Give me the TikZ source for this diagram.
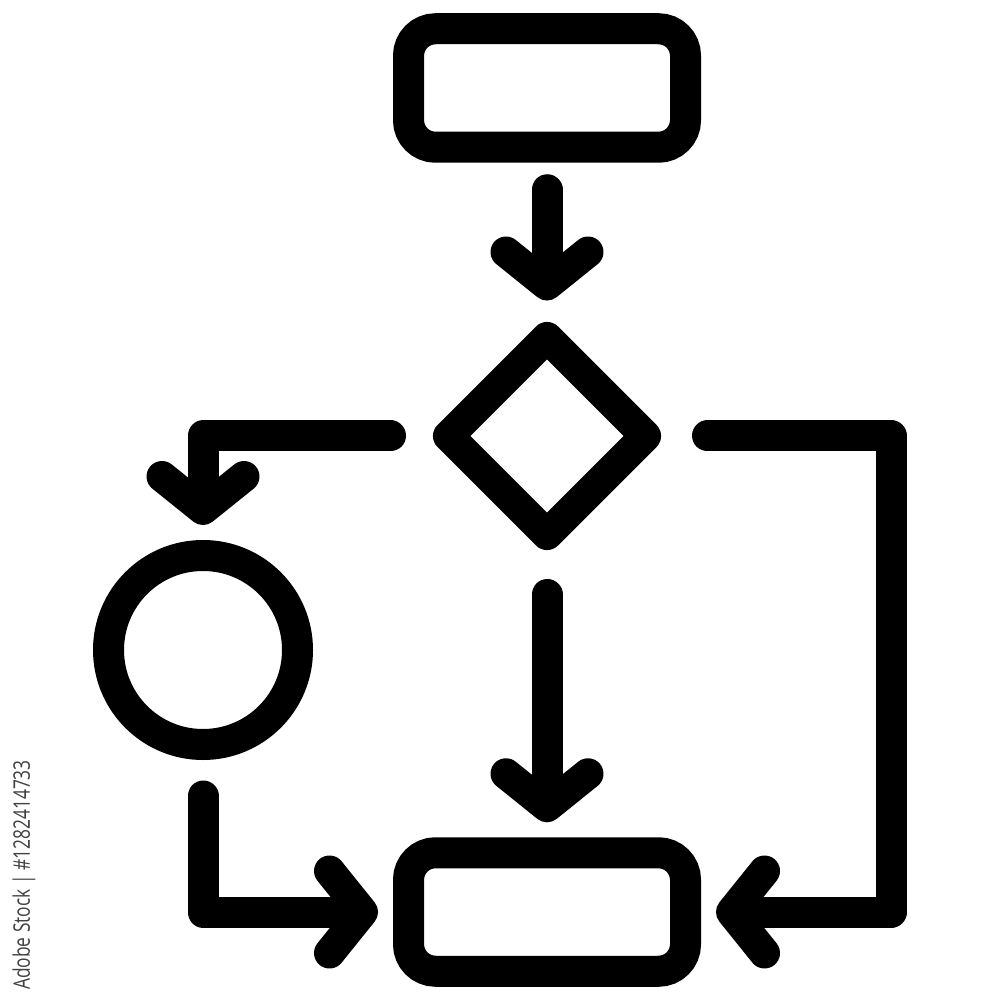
\documentclass[tikz,border=0pt]{standalone}
\usepackage{fontspec}
\newfontfamily\stockfont{Open Sans}
\usetikzlibrary{shapes.geometric,arrows.meta}
\begin{document}
\begin{tikzpicture}[
    every node/.style={line width=0.31cm, inner sep=0pt},
    box/.style={draw, rectangle, rounded corners=0.27cm, minimum width=2.77cm, minimum height=1.185cm},
    choice/.style={draw, diamond, minimum width=2.1cm, minimum height=2.1cm, line join=round},
    stop/.style={draw, circle, minimum size=1.89cm},
    flow/.style={line width=0.31cm, line cap=round, line join=round,
                 -{Straight Barb[round, length=0.33cm, width=0.82cm]},
                 shorten <=0.27cm, shorten >=0.15cm}
  ]
  \useasboundingbox (0,0) rectangle (10,-10);

  \node[box] (top) at (5.47,-0.88) {};
  \node[choice] (dec) at (5.47,-4.36) {};
  \node[stop] (circ) at (2.03,-6.50) {};
  \node[box] (bot) at (5.47,-9.12) {};
  \coordinate (edge) at (8.91,-6.50);

  \draw[flow] (top.south) -- (dec.north);
  \draw[flow, shorten <=0.36cm] (dec.west) -| (circ.north);
  \draw[flow, shorten <=0.38cm] (dec.south) -- (bot.north);
  \draw[flow, shorten <=0.4cm] (dec.east) -| (edge) |- (bot.east);
  \draw[flow, shorten <=0.36cm] (circ.south) |- (bot.west);

  \node[rotate=90, text=black!75, font=\stockfont\fontsize{6.5pt}{7pt}\selectfont] (stock) at (0.24,-8.75)
    {\scalebox{0.76}[1]{Adobe Stock | \#1282414733}};
\end{tikzpicture}
\end{document}
